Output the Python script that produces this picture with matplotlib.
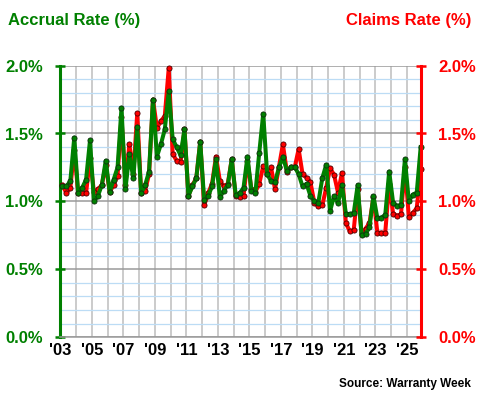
"""Warranty accrual rate vs claims rate, quarterly, 2003-2025."""

import matplotlib

matplotlib.use("Agg")
import matplotlib.pyplot as plt
from matplotlib.ticker import FixedLocator, MultipleLocator

plt.rcParams["font.family"] = ["Liberation Sans", "DejaVu Sans"]
plt.rcParams["font.weight"] = "bold"

GREEN = "#008000"
RED = "#ff0000"

first_year = 2003
label_years = ["'03", "'05", "'07", "'09", "'11", "'13", "'15", "'17", "'19", "'21", "'23", "'25"]

# accrual rate (%), four quarters per year
accrual = [
    1.11, 1.11, 1.15, 1.47,   # 2003
    1.06, 1.10, 1.16, 1.45,   # 2004
    1.00, 1.04, 1.12, 1.30,   # 2005
    1.07, 1.16, 1.25, 1.69,   # 2006
    1.09, 1.35, 1.17, 1.55,   # 2007
    1.06, 1.12, 1.22, 1.75,   # 2008
    1.33, 1.42, 1.53, 1.81,   # 2009
    1.46, 1.40, 1.34, 1.53,   # 2010
    1.04, 1.11, 1.17, 1.44,   # 2011
    1.01, 1.04, 1.11, 1.31,   # 2012
    1.03, 1.08, 1.12, 1.31,   # 2013
    1.05, 1.06, 1.10, 1.33,   # 2014
    1.08, 1.06, 1.36, 1.645,  # 2015
    1.20, 1.15, 1.14, 1.25,   # 2016
    1.33, 1.225, 1.25, 1.255, # 2017
    1.20, 1.11, 1.13, 1.04,   # 2018
    1.00, 0.99, 1.17, 1.27,   # 2019
    0.93, 1.04, 0.985, 1.12,  # 2020
    0.91, 0.905, 0.915, 1.12, # 2021
    0.75, 0.76, 0.81, 1.04,   # 2022
    0.875, 0.88, 0.90, 1.22,  # 2023
    0.99, 0.965, 0.975, 1.31, # 2024
    1.00, 1.05, 1.065, 1.40,  # 2025
]

# claims rate (%), four quarters per year
claims = [
    1.12, 1.06, 1.10, 1.38,   # 2003
    1.06, 1.06, 1.06, 1.32,   # 2004
    1.07, 1.09, 1.12, 1.27,   # 2005
    1.07, 1.12, 1.19, 1.62,   # 2006
    1.12, 1.42, 1.20, 1.65,   # 2007
    1.06, 1.08, 1.20, 1.75,   # 2008
    1.54, 1.59, 1.63, 1.98,   # 2009
    1.35, 1.30, 1.29, 1.53,   # 2010
    1.04, 1.12, 1.17, 1.44,   # 2011
    0.97, 1.06, 1.13, 1.33,   # 2012
    1.15, 1.11, 1.13, 1.31,   # 2013
    1.04, 1.035, 1.04, 1.30,  # 2014
    1.09, 1.07, 1.13, 1.26,   # 2015
    1.20, 1.25, 1.09, 1.255,  # 2016
    1.42, 1.22, 1.25, 1.25,   # 2017
    1.385, 1.20, 1.175, 1.14, # 2018
    0.99, 0.965, 0.97, 1.10,  # 2019
    1.245, 1.195, 1.065, 1.21, # 2020
    0.84, 0.78, 0.79, 1.09,   # 2021
    0.76, 0.80, 0.84, 1.03,   # 2022
    0.77, 0.77, 0.77, 1.13,   # 2023
    0.91, 0.895, 0.905, 1.25, # 2024
    0.885, 0.915, 0.95, 1.235, # 2025
]

y_ticks = [0.0, 0.5, 1.0, 1.5, 2.0]


def main() -> int:
    x = [first_year + (i + 0.5) / 4 for i in range(len(accrual))]
    last_year = first_year + len(accrual) // 4 - 1

    fig = plt.figure(figsize=(4.8, 4.0), dpi=100)
    ax = fig.add_axes([0.126, 0.157, 0.7504, 0.679])
    ax.set_xlim(first_year, x[-1])
    ax.set_ylim(0, 2.0)

    # grid: gray year lines, gray every 0.5%, light blue every 0.1%
    ax.xaxis.set_major_locator(FixedLocator(list(range(first_year, last_year + 1, 2))))
    ax.xaxis.set_minor_locator(FixedLocator(list(range(first_year + 1, last_year + 1, 2))))
    ax.set_xticklabels(label_years)
    ax.yaxis.set_major_locator(FixedLocator(y_ticks))
    ax.yaxis.set_minor_locator(MultipleLocator(0.1))
    ax.grid(True, axis="x", which="both", color="#bdbdbd", lw=1.1)
    ax.grid(True, axis="y", which="minor", color="#bcdcf5", lw=0.9)
    ax.grid(True, axis="y", which="major", color="#9a9a9a", lw=1.1)
    ax.set_axisbelow(True)

    ax.plot(x, claims, color=RED, lw=2.9, marker="o", ms=3.7,
            mfc=RED, mec="#4a0000", mew=0.6, zorder=3, clip_on=False)
    ax.plot(x, accrual, color=GREEN, lw=2.9, marker="o", ms=3.7,
            mfc=GREEN, mec="#0f2f0f", mew=0.6, zorder=4, clip_on=False)

    ax.set_yticklabels([f"{v:.1f}%" for v in y_ticks])
    ax.tick_params(axis="y", which="major", direction="inout", length=7.5, width=1.8,
                   color=GREEN, labelcolor=GREEN, labelsize=12, pad=9)
    ax.tick_params(axis="y", which="minor", length=0)
    ax.tick_params(axis="x", which="both", length=0, labelsize=12, pad=4, labelcolor="black")
    for lab in ax.get_xticklabels():
        lab.set_fontweight("bold")
    for lab in ax.get_yticklabels():
        lab.set_fontweight("bold")

    ax.spines["left"].set_color(GREEN)
    ax.spines["left"].set_linewidth(2.2)
    ax.spines["bottom"].set_color("#9a9a9a")
    ax.spines["bottom"].set_linewidth(1.1)
    ax.spines["top"].set_visible(False)
    ax.spines["right"].set_visible(False)

    ax2 = ax.twinx()
    ax2.set_ylim(0, 2.0)
    ax2.yaxis.set_major_locator(FixedLocator(y_ticks))
    ax2.set_yticklabels([f"{v:.1f}%" for v in y_ticks])
    ax2.tick_params(axis="y", direction="inout", length=7.5, width=1.8,
                    color=RED, labelcolor=RED, labelsize=12, pad=9)
    for lab in ax2.get_yticklabels():
        lab.set_fontweight("bold")
    for side in ("left", "top", "bottom"):
        ax2.spines[side].set_visible(False)
    ax2.spines["right"].set_color(RED)
    ax2.spines["right"].set_linewidth(2.2)

    fig.text(0.017, 0.948, "Accrual Rate (%)", color=GREEN, fontsize=12,
             fontweight="bold", ha="left", va="center")
    fig.text(0.982, 0.948, "Claims Rate (%)", color=RED, fontsize=12,
             fontweight="bold", ha="right", va="center")
    fig.text(0.982, 0.040, "Source: Warranty Week", color="black", fontsize=8.5,
             fontweight="bold", ha="right", va="center")

    fig.savefig("out.png", dpi=100)
    plt.close(fig)
    return 0


if __name__ == "__main__":
    raise SystemExit(main())
